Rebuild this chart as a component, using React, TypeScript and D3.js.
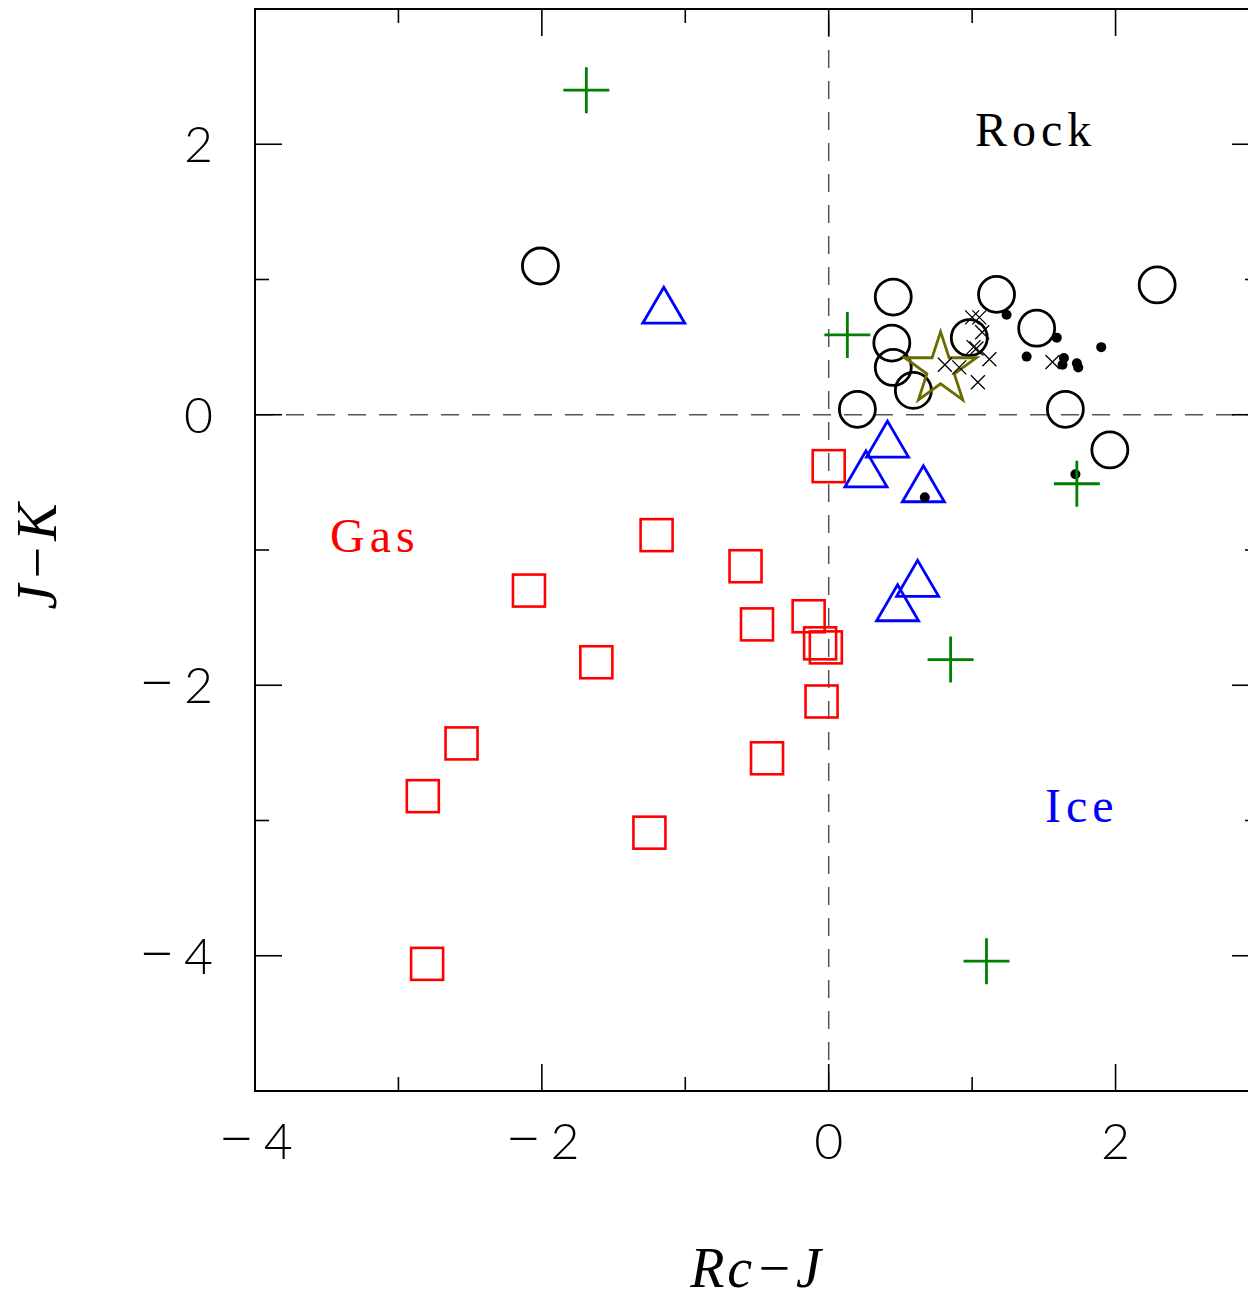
import React from 'react';
import * as d3 from 'd3';

// colour-colour diagram: Rc-J vs J-K
const plusX = [-1.69, 0.13, 1.73, 0.85, 1.10];
const plusY = [2.40, 0.59, -0.51, -1.81, -4.04];

const circleX = [-2.01, 0.45, 0.44, 0.45, 0.59, 0.20, 1.17, 0.98, 1.45, 2.29, 1.65, 1.96];
const circleY = [1.10, 0.87, 0.53, 0.35, 0.18, 0.04, 0.89, 0.57, 0.64, 0.96, 0.04, -0.26];

const starX = [0.78];
const starY = [0.35];

const squareX = [0.00, -1.20, -0.58, -2.09, -0.50, -0.14, -0.06, -0.02, -1.62, -0.05, -2.56, -0.43, -2.83, -1.25, -2.80];
const squareY = [-0.38, -0.89, -1.12, -1.30, -1.55, -1.49, -1.69, -1.72, -1.83, -2.12, -2.43, -2.54, -2.82, -3.09, -4.06];

const triX = [-1.15, 0.41, 0.26, 0.66, 0.62, 0.48];
const triY = [0.81, -0.18, -0.40, -0.51, -1.21, -1.39];

const dotX = [1.24, 1.59, 1.90, 1.38, 1.64, 1.63, 1.73, 1.74, 0.67, 1.72];
const dotY = [0.74, 0.57, 0.50, 0.43, 0.42, 0.37, 0.38, 0.35, -0.61, -0.44];

const xMarkX = [1.00, 1.05, 1.07, 1.01, 1.03, 1.12, 0.81, 0.91, 1.04, 1.56];
const xMarkY = [0.72, 0.72, 0.61, 0.50, 0.49, 0.41, 0.37, 0.35, 0.24, 0.39];

const xTicks = [-4, -3, -2, -1, 0, 1, 2, 3];
const yTicks = [-5, -4, -3, -2, -1, 0, 1, 2, 3];
const xLabels = [-4, -2, 0, 2];
const yLabels = [-4, -2, 0, 2];

const zip = (xs: number[], ys: number[]) => xs.map((v, i) => [v, ys[i]]);

const App = () => {
  const width = 1248;
  const height = 1300;
  const x = d3.scaleLinear().domain([-4, 3]).range([255, 1259]);
  const y = d3.scaleLinear().domain([-5, 3]).range([1091, 9]);
  const [x0, x1] = x.range();
  const [y0, y1] = y.range();

  const tickFont = { fontFamily: 'Lato, "DejaVu Sans", sans-serif', fontWeight: 300, fontSize: 50 };
  const labelFont = { fontFamily: '"Liberation Serif", serif', fontSize: 48, letterSpacing: 5 };
  const axisFont = { fontFamily: '"Liberation Serif", serif', fontStyle: 'italic', fontSize: 56, letterSpacing: 3 };

  // long minus like the original plot package
  const tickText = (v: number) =>
    v < 0 ? (
      <>
        <tspan style={{ fontSize: 66 }} dy={-1}>{'\u2013'}</tspan>
        <tspan dx={8} dy={1}>{Math.abs(v)}</tspan>
      </>
    ) : (
      String(v)
    );

  const starPath = d3.symbol(d3.symbolStar, 1600)();
  const triPath = (cx: number, cy: number) =>
    `M${cx},${cy - 18}L${cx + 21},${cy + 18}L${cx - 21},${cy + 18}Z`;

  return (
    <svg width={width} height={height} style={{ position: 'absolute', left: 0, top: 0, background: '#fff' }}>
      {/* zero lines */}
      <line x1={x(0)} x2={x(0)} y1={y0} y2={y1} stroke="#555" strokeWidth={1.5} strokeDasharray="18,13" />
      <line x1={x0} x2={x1} y1={y(0)} y2={y(0)} stroke="#555" strokeWidth={1.5} strokeDasharray="18,13" />

      {/* frame */}
      <rect x={x0} y={y1} width={x1 - x0} height={y0 - y1} fill="none" stroke="#000" strokeWidth={2} />

      {xTicks.map((t) => {
        const len = t % 2 === 0 ? 27 : 14;
        return (
          <g key={'xt' + t}>
            <line x1={x(t)} x2={x(t)} y1={y0} y2={y0 - len} stroke="#000" strokeWidth={1.6} />
            <line x1={x(t)} x2={x(t)} y1={y1} y2={y1 + len} stroke="#000" strokeWidth={1.6} />
          </g>
        );
      })}
      {yTicks.map((t) => {
        const len = t % 2 === 0 ? 27 : 14;
        return (
          <g key={'yt' + t}>
            <line x1={x0} x2={x0 + len} y1={y(t)} y2={y(t)} stroke="#000" strokeWidth={1.6} />
            <line x1={x1} x2={x1 - len} y1={y(t)} y2={y(t)} stroke="#000" strokeWidth={1.6} />
          </g>
        );
      })}

      {xLabels.map((t) => (
        <text key={'xl' + t} x={x(t)} y={1159} textAnchor="middle" style={tickFont}>
          {tickText(t)}
        </text>
      ))}
      {yLabels.map((t) => (
        <text key={'yl' + t} x={213} y={y(t) + 18} textAnchor="end" style={tickFont}>
          {tickText(t)}
        </text>
      ))}

      <text x={757} y={1287} textAnchor="middle" style={axisFont}>
        Rc{'\u2212'}J
      </text>
      <text transform="translate(56,555) rotate(-90)" textAnchor="middle" style={axisFont}>
        J{'\u2212'}K
      </text>

      <text x={975} y={146} style={labelFont} fill="#000">Rock</text>
      <text x={330} y={552} style={labelFont} fill="#ff0000">Gas</text>
      <text x={1045} y={822} style={labelFont} fill="#0000ff">Ice</text>

      {/* markers */}
      {zip(squareX, squareY).map(([a, b], i) => (
        <rect key={'sq' + i} x={x(a) - 16} y={y(b) - 16} width={32} height={32} fill="none" stroke="#ff0000" strokeWidth={2.6} />
      ))}
      {zip(triX, triY).map(([a, b], i) => (
        <path key={'tr' + i} d={triPath(x(a), y(b))} fill="none" stroke="#0000ff" strokeWidth={2.8} />
      ))}
      {zip(circleX, circleY).map(([a, b], i) => (
        <circle key={'c' + i} cx={x(a)} cy={y(b)} r={18} fill="none" stroke="#000" strokeWidth={2.8} />
      ))}
      {zip(starX, starY).map(([a, b], i) => (
        <path key={'st' + i} d={starPath || ''} transform={`translate(${x(a)},${y(b) + 2})`} fill="none" stroke="#6b6b00" strokeWidth={2.8} />
      ))}
      {zip(xMarkX, xMarkY).map(([a, b], i) => (
        <path key={'xm' + i} d={`M${x(a) - 7},${y(b) - 7}L${x(a) + 7},${y(b) + 7}M${x(a) - 7},${y(b) + 7}L${x(a) + 7},${y(b) - 7}`} stroke="#000" strokeWidth={1.3} />
      ))}
      {zip(dotX, dotY).map(([a, b], i) => (
        <circle key={'d' + i} cx={x(a)} cy={y(b)} r={5} fill="#000" />
      ))}
      {zip(plusX, plusY).map(([a, b], i) => (
        <path key={'p' + i} d={`M${x(a) - 23},${y(b)}L${x(a) + 23},${y(b)}M${x(a)},${y(b) - 23}L${x(a)},${y(b) + 23}`} stroke="#008000" strokeWidth={2.8} />
      ))}
    </svg>
  );
};

export default App;
